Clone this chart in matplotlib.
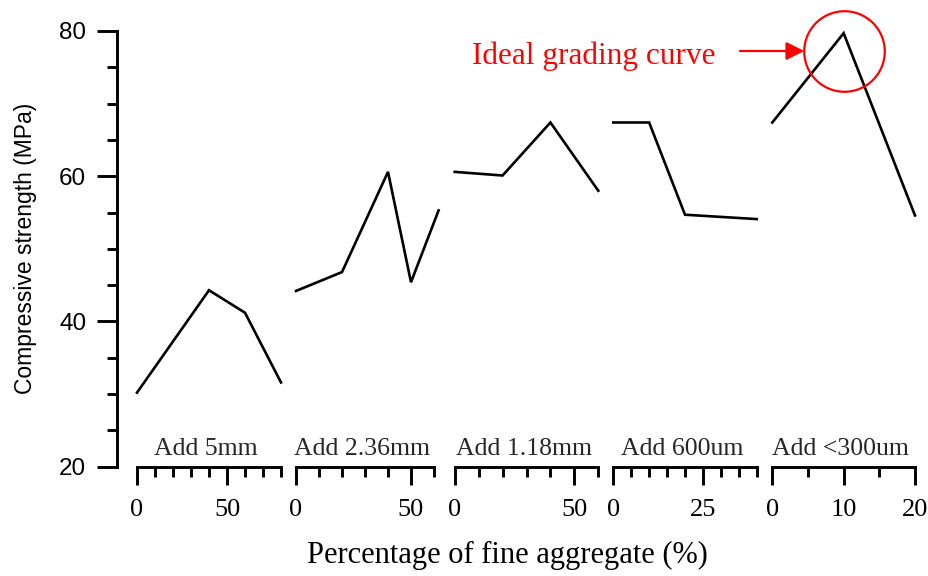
import numpy as np
import matplotlib
matplotlib.use('Agg')
from matplotlib import pyplot as plt
from matplotlib.ticker import MultipleLocator

#==============================================================================
# DATA
#==============================================================================
seg_names = ['Add 5mm', 'Add 2.36mm', 'Add 1.18mm', 'Add 600um', 'Add <300um']
x_5mm  = [0, 40, 60, 80]
y_5mm  = [30.2, 44.3, 41.2, 31.6]
x_236  = [0, 20, 40, 50, 62]
y_236  = [44.2, 46.8, 60.6, 45.4, 55.3]
x_118  = [0, 20, 40, 60]
y_118  = [60.6, 60.1, 67.4, 58.0]
x_600  = [0, 10, 20, 40]
y_600  = [67.4, 67.4, 54.7, 54.1]
x_300  = [0, 10, 20]
y_300  = [67.4, 79.7, 54.6]
xs = [x_5mm, x_236, x_118, x_600, x_300]
ys = [y_5mm, y_236, y_118, y_600, y_300]
x_max    = [80, 60, 60, 40, 20]
x_major  = [[0, 50], [0, 50], [0, 50], [0, 25], [0, 10, 20]]
x_minor  = [10, 10, 10, 5, 5]
y_major  = [20, 40, 60, 80]
ideal_pt = (10, 77.3)

#==============================================================================
# LAYOUT (pixels of a 929x576 figure)
#==============================================================================
W, H = 929, 576
y_bot, y_top = 466.7, 31.0
seg_px = [(137, 281), (296, 434), (454.7, 598.3), (613.3, 756.7), (772.3, 915)]

serif = 'Liberation Serif'
sans  = 'Liberation Sans'
lw_ax = 2.1

def rect(x0, x1):
    return [x0/W, (H - y_bot)/H, (x1 - x0)/W, (y_bot - y_top)/H]

fig = plt.figure(figsize=(W/100, H/100), dpi=100)

#main y axis
ax0 = fig.add_axes(rect(117.3, 916))
ax0.set_ylim(20, 80)
ax0.set_xticks([])
for s in ['top', 'right', 'bottom']:
    ax0.spines[s].set_visible(False)
ax0.spines['left'].set_linewidth(lw_ax)
ax0.set_yticks(y_major, labels=[str(v) for v in y_major], family=sans,
               fontsize=17.5)
ax0.yaxis.set_minor_locator(MultipleLocator(5))
ax0.tick_params(axis='y', which='major', length=14.4, width=lw_ax, pad=8)
ax0.tick_params(axis='y', which='minor', length=7.2, width=lw_ax)
ax0.set_ylabel('Compressive strength (MPa)', family=sans, fontsize=16.5)
ax0.yaxis.set_label_coords(-0.101, 0.5)
ax0.patch.set_visible(False)

#one small axes per series
axes = []
for k in range(len(seg_names)):
    ax = fig.add_axes(rect(*seg_px[k]))
    ax.patch.set_visible(False)
    ax.set_xlim(0, x_max[k])
    ax.set_ylim(20, 80)
    ax.set_yticks([])
    for s in ['top', 'right', 'left']:
        ax.spines[s].set_visible(False)
    ax.spines['bottom'].set_linewidth(lw_ax)
    ax.set_xticks(x_major[k], labels=[str(v) for v in x_major[k]],
                  family=serif, fontsize=19)
    ax.xaxis.set_minor_locator(MultipleLocator(x_minor[k]))
    ax.tick_params(axis='x', which='major', length=13.2, width=lw_ax, pad=10)
    ax.tick_params(axis='x', which='minor', length=7.2, width=lw_ax)
    ax.plot(xs[k], ys[k], color='k', lw=1.9, clip_on=False,
            solid_joinstyle='miter')
    ax.annotate(seg_names[k], xy=(0.5, 0), xycoords='axes fraction',
                xytext=(-2, 8.4), textcoords='offset points', ha='center',
                va='baseline', family=serif, fontsize=18.5, color='#262626')
    axes.append(ax)

#highlight the ideal curve
ax5 = axes[-1]
ax5.plot(ideal_pt[0], ideal_pt[1], marker='o', ms=58, mfc='none', mec='red',
         mew=1.6, clip_on=False)
ax5.annotate('', xy=(804.3, H - 51), xycoords='figure pixels',
             xytext=(740, H - 51), textcoords='figure pixels',
             arrowprops=dict(arrowstyle='-|>,head_length=1.1,head_width=0.55',
                             color='red', lw=1.6, shrinkA=0, shrinkB=0))
fig.text(471.7/W, (H - 64)/H, 'Ideal grading curve', color='red',
         family=serif, fontsize=22.5, ha='left', va='baseline')

fig.text(507/W, (H - 555)/H, 'Percentage of fine aggregate (%)',
         family=serif, fontsize=22, ha='center', va='center')

plt.savefig('out.png', dpi=100)
